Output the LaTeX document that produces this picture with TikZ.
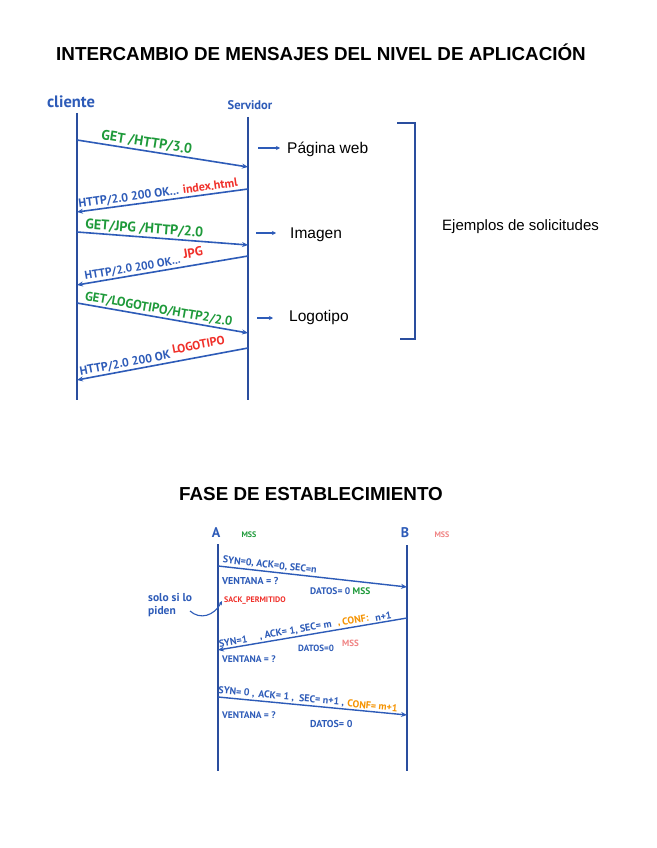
\documentclass[tikz,border=0pt]{standalone}
\usepackage{fontspec}
\setmainfont{Liberation Sans}
\newfontfamily\hwfont{PT Sans}
\usetikzlibrary{arrows.meta}
\definecolor{lblue}{HTML}{2D5BB8}
\definecolor{dblue}{HTML}{2A4E9E}
\definecolor{hgreen}{HTML}{1E9A3A}
\definecolor{hred}{HTML}{F0302A}
\definecolor{horange}{HTML}{F59300}
\definecolor{hpink}{HTML}{F08484}
\begin{document}
\begin{tikzpicture}[x=1pt,y=-1pt,
  life/.style={draw=dblue, line width=2.2pt},
  msg/.style={draw=lblue, line width=1.6pt, -{Stealth[length=6pt,width=5pt]}},
  small/.style={draw=lblue, line width=1.2pt, -{Stealth[length=4pt,width=4pt]}},
  hw/.style={inner sep=1pt, font=\hwfont\bfseries\fontsize{#1}{#1}\selectfont},
  hw/.default=9,
  ttl/.style={font=\bfseries\fontsize{18.8}{20}\selectfont},
  txt/.style={font=\fontsize{15.5}{17}\selectfont, anchor=west, inner sep=0pt}]
\path[use as bounding box, fill=white] (0,0) rectangle (656,848);

% ---------- titles
\node[ttl] (t1) at (321,52) {INTERCAMBIO DE MENSAJES DEL NIVEL DE APLICACIÓN};
\node[ttl] (t2) at (311,494) {FASE DE ESTABLECIMIENTO};

% ---------- top diagram
\node[hw=16.5, text=lblue] (cli) at (71,102) {cliente};
\node[hw=12.5, text=lblue] (srv) at (250,105) {Servidor};
\coordinate (cT) at (77,113); \coordinate (cB) at (77,400);
\coordinate (sT) at (248,117); \coordinate (sB) at (248,400);
\draw[life] (cT) -- (cB);
\draw[life] (sT) -- (sB);

\coordinate (m1a) at (77,140);  \coordinate (m1b) at (248,167);
\coordinate (m2a) at (248,189); \coordinate (m2b) at (77,212);
\coordinate (m3a) at (77,232);  \coordinate (m3b) at (248,245);
\coordinate (m4a) at (248,256); \coordinate (m4b) at (77,285);
\coordinate (m5a) at (77,303);  \coordinate (m5b) at (248,333);
\coordinate (m6a) at (248,348); \coordinate (m6b) at (77,380);

\draw[msg] (m1a) -- (m1b);
\path (m1a) -- (m1b) node[pos=0.4, above=1pt, sloped, hw=14, text=hgreen] (l1) {GET /HTTP/3.0};
\draw[msg] (m2a) -- (m2b);
\path (m2b) -- (m2a) node[pos=0.48, above=1pt, sloped, hw=12, text=lblue] (l2) {HTTP/2.0 200 OK... \textcolor{hred}{index.html}};
\draw[msg] (m3a) -- (m3b);
\path (m3a) -- (m3b) node[pos=0.39, above=1pt, sloped, hw=14, text=hgreen] (l3) {GET/JPG /HTTP/2.0};
\draw[msg] (m4a) -- (m4b);
\path (m4b) -- (m4a) node[pos=0.4, above=1pt, sloped, hw=11.5, text=lblue] (l4) {HTTP/2.0 200 OK... \raisebox{4pt}{\textcolor{hred}{\fontsize{13}{13}\selectfont JPG}}};
\draw[msg] (m5a) -- (m5b);
\path (m5a) -- (m5b) node[pos=0.47, above=1pt, sloped, hw=12.8, text=hgreen] (l5) {GET/LOGOTIPO/HTTP2/2.0};
\draw[msg] (m6a) -- (m6b);
\path (m6b) -- (m6a) node[pos=0.45, above=1pt, sloped, hw=12, text=lblue] (l6) {HTTP/2.0 200 OK \raisebox{4pt}{\textcolor{hred}{LOGOTIPO}}};

% right side
\coordinate (r1a) at (258,148); \coordinate (r1b) at (280,148);
\coordinate (r2a) at (256,233); \coordinate (r2b) at (276,233);
\coordinate (r3a) at (257,318); \coordinate (r3b) at (273,318);
\draw[small] (r1a) -- (r1b);
\draw[small] (r2a) -- (r2b);
\draw[small] (r3a) -- (r3b);
\node[txt] (pw) at (287,149) {Página web};
\node[txt] (im) at (290,235) {Imagen};
\node[txt] (lg) at (289,317) {Logotipo};

\coordinate (b1) at (397,123); \coordinate (b2) at (415,123);
\coordinate (b3) at (415,339); \coordinate (b4) at (400,339);
\draw[dblue, line width=2pt] (b1) -- (b2) -- (b3) -- (b4);
\node[txt, font=\fontsize{15}{17}\selectfont] (ej) at (442,227) {Ejemplos de solicitudes};

% ---------- bottom diagram
\node[hw=14, text=lblue] (A) at (216,533) {A};
\node[hw=14, text=lblue] (B) at (405,533) {B};
\node[hw=8, text=hgreen] (mssA) at (249,535) {MSS};
\node[hw=8, text=hpink] (mssB) at (442,535) {MSS};
\coordinate (AT) at (218,544); \coordinate (AB) at (218,771);
\coordinate (BT) at (407,545); \coordinate (BB) at (407,771);
\draw[life, line width=1.8pt] (AT) -- (AB);
\draw[life, line width=1.8pt] (BT) -- (BB);

\coordinate (n1a) at (218,566); \coordinate (n1b) at (407,587);
\coordinate (n2a) at (407,618); \coordinate (n2b) at (218,650);
\coordinate (n3a) at (218,697); \coordinate (n3b) at (407,715);

\draw[msg, line width=1.4pt] (n1a) -- (n1b);
\path (n1a) -- (n1b) node[pos=0.27, above=1pt, sloped, hw=10, text=lblue] (k1) {SYN=0, ACK=0, SEC=n};
\node[hw=10, text=lblue, anchor=west] (v1) at (221,581) {VENTANA = ?};
\node[hw=9.5, text=lblue, anchor=west] (d1) at (309,591) {DATOS= 0 \textcolor{hgreen}{MSS}};
\node[hw=8, text=hred, anchor=west] (sp) at (223,601) {SACK\_PERMITIDO};

\node[hw=11.5, text=lblue, anchor=west, align=left] (solo) at (147,605) {solo si lo\\[1pt]piden};
\coordinate (sa) at (190,611); \coordinate (se) at (222,601);
\draw[lblue, line width=1.1pt, -{Stealth[length=4pt,width=4pt]}] (sa) .. controls (200,620) and (214,616) .. (se);

\draw[msg, line width=1.4pt] (n2a) -- (n2b);
\path (n2b) -- (n2a)
  node[pos=0.085, above=1pt, sloped, hw=10, text=lblue] (k2a) {SYN=1}
  node[pos=0.32, above=1pt, sloped, hw=10, text=lblue] (k2b) {, ACK= 1}
  node[pos=0.51, above=1pt, sloped, hw=10, text=lblue] (k2c) {, SEC= m}
  node[pos=0.72, above=1pt, sloped, hw=10, text=horange] (k2d) {, CONF:}
  node[pos=0.88, above=1pt, sloped, hw=10, text=lblue] (k2e) {n+1};
\node[hw=9.5, text=lblue, anchor=west] (v2) at (221,659) {VENTANA = ?};
\node[hw=9, text=lblue, anchor=west] (d2) at (297,648) {DATOS=0};
\node[hw=9, text=hpink, anchor=west] (m2) at (341,643) {MSS};

\draw[msg, line width=1.4pt] (n3a) -- (n3b);
\path (n3a) -- (n3b)
  node[pos=0.095, above=1pt, sloped, hw=10, text=lblue] (k3a) {SYN= 0 ,}
  node[pos=0.305, above=1pt, sloped, hw=10, text=lblue] (k3b) {ACK= 1 ,}
  node[pos=0.545, above=1pt, sloped, hw=10, text=lblue] (k3c) {SEC= n+1 ,}
  node[pos=0.815, above=1pt, sloped, hw=10, text=horange] (k3d) {CONF= m+1};
\node[hw=9.5, text=lblue, anchor=west] (v3) at (221,715) {VENTANA = ?};
\node[hw=10, text=lblue, anchor=west] (d3) at (309,724) {DATOS= 0};
\end{tikzpicture}
\end{document}
